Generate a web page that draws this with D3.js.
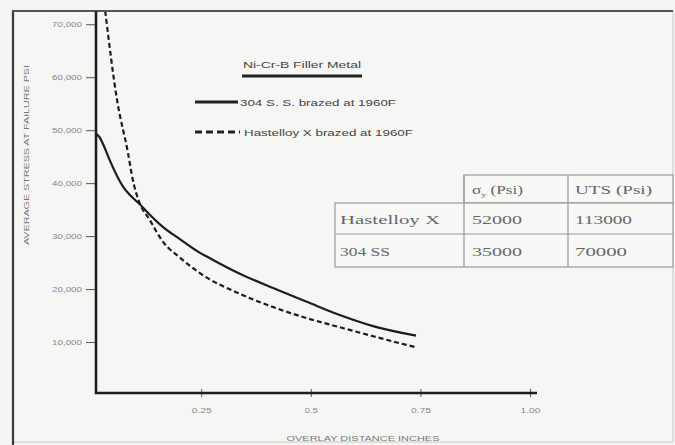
<!doctype html>
<html>
  <head>
    <script src="https://cdnjs.cloudflare.com/ajax/libs/d3/7.8.5/d3.min.js"></script>
    <style>
      body { margin: 0; background: #f4f4f2; }
    </style>
  </head>
  <body>
    <svg width="675" height="445"></svg>

    <script>
        // 304 S.S. brazed at 1960F (solid)
        var ssOverlap = [0.010, 0.018, 0.028, 0.042, 0.072, 0.088, 0.110, 0.126, 0.163, 0.202, 0.240, 0.277, 0.338, 0.414, 0.491, 0.566, 0.642, 0.740];
        var ssStress  = [49300, 48700, 47000, 44200, 39300, 37700, 36000, 34600, 31700, 29400, 27200, 25500, 22900, 20200, 17600, 15100, 13000, 11200];

        // Hastelloy X brazed at 1960F (dashed)
        var hxOverlap = [0.031, 0.058, 0.083, 0.094, 0.106, 0.133, 0.163, 0.202, 0.247, 0.338, 0.414, 0.491, 0.566, 0.642, 0.740];
        var hxStress  = [72500, 55700, 45700, 40600, 37000, 33000, 28900, 25900, 23000, 19100, 16600, 14500, 12800, 11100, 9000];

        var yTicks = [10000, 20000, 30000, 40000, 50000, 60000, 70000];
        var xTicks = [0.25, 0.5, 0.75, 1.0];
        var xTickLabels = ["0.25", "0.5", "0.75", "1.00"];

        var tableAlloys = ["Hastelloy X", "304 SS"];
        var yieldPsi = ["52000", "35000"];
        var utsPsi = ["113000", "70000"];

        var svg = d3.select("svg");

        var x = d3.scaleLinear().domain([0.01, 1.0]).range([96, 530]);
        var y = d3.scaleLinear().domain([0, 72500]).range([395, 11]);

        // frame
        svg.append("rect").attr("x", 13).attr("y", 11).attr("width", 660).attr("height", 431)
            .attr("fill", "#f6f6f4").attr("stroke", "#cfcfcd").attr("stroke-width", 1.2);
        svg.append("line").attr("x1", 13).attr("x2", 13).attr("y1", 10).attr("y2", 445)
            .attr("stroke", "#3a3a3a").attr("stroke-width", 2.2);
        svg.append("line").attr("x1", 12).attr("x2", 673).attr("y1", 11).attr("y2", 11)
            .attr("stroke", "#555").attr("stroke-width", 2);

        // y axis
        var yAxis = svg.append("g").attr("transform", "translate(96,0)")
            .call(d3.axisLeft(y).tickValues(yTicks).tickSize(10).tickPadding(4).tickFormat(d3.format(",")));
        yAxis.select(".domain").remove();
        yAxis.selectAll("line").attr("stroke", "#555").attr("stroke-width", 1);
        yAxis.selectAll("text").attr("font-family", "Liberation Sans").attr("font-size", 7.5).attr("fill", "#888")
            .attr("textLength", 30).attr("lengthAdjust", "spacingAndGlyphs");

        // x axis
        var xLens = [20, 13, 20, 20];
        var xAxis = svg.append("g").attr("transform", "translate(0,393)")
            .call(d3.axisBottom(x).tickValues(xTicks).tickSize(4).tickPadding(11)
                .tickFormat((d, i) => xTickLabels[i]));
        xAxis.select(".domain").remove();
        xAxis.selectAll("line").attr("y1", -4).attr("stroke", "#555").attr("stroke-width", 1);
        xAxis.selectAll("text").attr("font-family", "Liberation Sans").attr("font-size", 7.5).attr("fill", "#888")
            .attr("textLength", (d, i) => xLens[i]).attr("lengthAdjust", "spacingAndGlyphs");

        svg.append("path")
            .attr("d", "M96,11 V393 H537")
            .attr("fill", "none").attr("stroke", "#1e1e1e").attr("stroke-width", 2.6);

        // axis titles
        svg.append("text").attr("transform", "translate(29,155) rotate(-90)")
            .attr("text-anchor", "middle").attr("font-family", "Liberation Sans").attr("font-size", 7)
            .attr("fill", "#777").attr("textLength", 180).attr("lengthAdjust", "spacingAndGlyphs")
            .text("AVERAGE STRESS AT FAILURE PSI");
        svg.append("text").attr("x", 363).attr("y", 441)
            .attr("text-anchor", "middle").attr("font-family", "Liberation Sans").attr("font-size", 7)
            .attr("fill", "#777").attr("textLength", 153).attr("lengthAdjust", "spacingAndGlyphs")
            .text("OVERLAY DISTANCE INCHES");

        // curves
        svg.append("clipPath").attr("id", "plot").append("rect")
            .attr("x", 96).attr("y", 12).attr("width", 460).attr("height", 382);

        var ssData = d3.zip(ssOverlap, ssStress);
        var hxData = d3.zip(hxOverlap, hxStress);

        var lineGen = d3.line().x(d => x(d[0])).y(d => y(d[1])).curve(d3.curveMonotoneX);

        svg.append("path").datum(ssData).attr("clip-path", "url(#plot)")
            .attr("d", lineGen).attr("fill", "none").attr("stroke", "#1c1c1c").attr("stroke-width", 2.2);
        svg.append("path").datum(hxData).attr("clip-path", "url(#plot)")
            .attr("d", lineGen).attr("fill", "none").attr("stroke", "#1c1c1c").attr("stroke-width", 2.2)
            .attr("stroke-dasharray", "5,3");

        // legend
        svg.append("text").attr("x", 302).attr("y", 68).attr("text-anchor", "middle")
            .attr("font-family", "Liberation Sans").attr("font-size", 8.5).attr("fill", "#444")
            .attr("textLength", 118).attr("lengthAdjust", "spacingAndGlyphs")
            .text("Ni-Cr-B Filler Metal");
        svg.append("line").attr("x1", 242).attr("x2", 362).attr("y1", 76).attr("y2", 76)
            .attr("stroke", "#222").attr("stroke-width", 3);

        svg.append("line").attr("x1", 195).attr("x2", 238).attr("y1", 102).attr("y2", 102)
            .attr("stroke", "#222").attr("stroke-width", 3.2);
        svg.append("text").attr("x", 240).attr("y", 105.5)
            .attr("font-family", "Liberation Sans").attr("font-size", 9).attr("fill", "#444")
            .attr("textLength", 156).attr("lengthAdjust", "spacingAndGlyphs")
            .text("304 S. S. brazed at 1960F");

        svg.append("line").attr("x1", 195).attr("x2", 240).attr("y1", 132).attr("y2", 132)
            .attr("stroke", "#222").attr("stroke-width", 3.2).attr("stroke-dasharray", "7,4");
        svg.append("text").attr("x", 244).attr("y", 135.5)
            .attr("font-family", "Liberation Sans").attr("font-size", 9).attr("fill", "#444")
            .attr("textLength", 169).attr("lengthAdjust", "spacingAndGlyphs")
            .text("Hastelloy X brazed at 1960F");

        // table
        var colX = [335, 464, 568, 673];
        var rowY = [175, 203, 234, 267];
        var tbl = svg.append("g").attr("stroke", "#9a9a9a").attr("stroke-width", 1.2);
        tbl.append("rect").attr("x", colX[1]).attr("y", rowY[0]).attr("width", colX[3] - colX[1]).attr("height", rowY[1] - rowY[0]).attr("fill", "#f8f8f6");
        tbl.append("rect").attr("x", colX[0]).attr("y", rowY[1]).attr("width", colX[3] - colX[0]).attr("height", rowY[3] - rowY[1]).attr("fill", "#f8f8f6");
        tbl.append("line").attr("x1", colX[0]).attr("x2", colX[3]).attr("y1", rowY[2]).attr("y2", rowY[2]);
        tbl.append("line").attr("x1", colX[1]).attr("x2", colX[1]).attr("y1", rowY[0]).attr("y2", rowY[3]);
        tbl.append("line").attr("x1", colX[2]).attr("x2", colX[2]).attr("y1", rowY[0]).attr("y2", rowY[3]);

        function cell(tx, ty, str, len) {
            return svg.append("text").attr("x", tx).attr("y", ty)
                .attr("font-family", "Liberation Serif").attr("font-size", 12.5).attr("fill", "#666")
                .attr("textLength", len).attr("lengthAdjust", "spacingAndGlyphs")
                .text(str);
        }

        var hdr = svg.append("text").attr("x", 472).attr("y", 194)
            .attr("font-family", "Liberation Serif").attr("font-size", 12.5).attr("fill", "#666")
            .attr("textLength", 51).attr("lengthAdjust", "spacingAndGlyphs");
        hdr.append("tspan").text("σ");
        hdr.append("tspan").attr("font-size", 7).attr("dy", 3).text("y");
        hdr.append("tspan").attr("dy", -3).text(" (Psi)");
        cell(575, 194, "UTS (Psi)", 77);

        var lens = [[100, 50, 57], [50, 50, 52]];
        tableAlloys.forEach(function (name, i) {
            var by = (rowY[i + 1] + rowY[i + 2]) / 2 + 5;
            cell(340, by, name, lens[i][0]);
            cell(472, by, yieldPsi[i], lens[i][1]);
            cell(575, by, utsPsi[i], lens[i][2]);
        });
    </script>
  </body>
</html>
